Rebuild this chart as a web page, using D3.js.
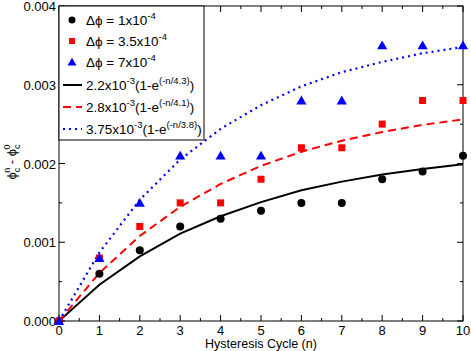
<!DOCTYPE html>
<meta charset="utf-8">
<head>
	<title>Hysteresis</title>
	<script type="text/javascript" src="https://d3js.org/d3.v7.min.js"></script>
	<style>
		body { margin: 0; background: #fff; }
		text { font-family: "Liberation Sans", Arial, sans-serif; fill: #000; }
		.tick-label { font-size: 13px; }
		.leg { font-size: 13.5px; }
	</style>
</head>
<body>
	<div id="chart"></div>
	<script>
		// data
		var cycles = [0, 1, 2, 3, 4, 5, 6, 7, 8, 9, 10];
		var dphi1 = [0, 0.0006, 0.0009, 0.0012, 0.0013, 0.0014, 0.0015, 0.0015, 0.0018, 0.0019, 0.0021];
		var dphi35 = [0, 0.0008, 0.0012, 0.0015, 0.0015, 0.0018, 0.0022, 0.0022, 0.0025, 0.0028, 0.0028];
		var dphi7 = [0, 0.0008, 0.0015, 0.0021, 0.0021, 0.0021, 0.0028, 0.0028, 0.0035, 0.0035, 0.0035];
		// fitted curves (values at each cycle)
		var fit1 = [0, 0.00046, 0.00082, 0.00111, 0.00133, 0.00151, 0.00166, 0.00177, 0.00186, 0.00193, 0.00199];
		var fit2 = [0, 0.00061, 0.00108, 0.00145, 0.00174, 0.00197, 0.00215, 0.00229, 0.00240, 0.00249, 0.00256];
		var fit3 = [0, 0.00087, 0.00154, 0.00205, 0.00244, 0.00274, 0.00298, 0.00316, 0.00329, 0.00340, 0.00348];
		var xTicks = [0, 1, 2, 3, 4, 5, 6, 7, 8, 9, 10];
		var yTicks = [0, 0.001, 0.002, 0.003, 0.004];

		var width = 471, height = 351;
		var margin = { left: 59, right: 8, top: 6, bottom: 30 };
		var svg = d3.select("#chart").append("svg").attr("width", width).attr("height", height);

		var x = d3.scaleLinear().domain([0, 10]).range([margin.left, width - margin.right]);
		var y = d3.scaleLinear().domain([0, 0.004]).range([height - margin.bottom, margin.top]);

		var x0 = x(0), x1 = x(10), y0 = y(0), y1 = y(0.004);
		var phi = "\u03d5";

		// frame
		svg.append("rect").attr("x", x0).attr("y", y1).attr("width", x1 - x0).attr("height", y0 - y1)
			.style("fill", "none").style("stroke", "#000").style("stroke-width", 1);

		// inward ticks on all sides
		var tk = svg.append("g").style("stroke", "#000").style("stroke-width", 1);
		d3.range(0, 10.01, 0.5).forEach(function (v) {
			var len = (Math.abs(v - Math.round(v)) < 1e-6) ? 6 : 3;
			tk.append("line").attr("x1", x(v)).attr("x2", x(v)).attr("y1", y0).attr("y2", y0 - len);
			tk.append("line").attr("x1", x(v)).attr("x2", x(v)).attr("y1", y1).attr("y2", y1 + len);
		});
		d3.range(0, 0.00401, 0.0005).forEach(function (v, i) {
			var len = (i % 2 === 0) ? 6 : 3;
			tk.append("line").attr("y1", y(v)).attr("y2", y(v)).attr("x1", x0).attr("x2", x0 + len);
			tk.append("line").attr("y1", y(v)).attr("y2", y(v)).attr("x1", x1).attr("x2", x1 - len);
		});

		svg.selectAll(".xl").data(xTicks).enter().append("text")
			.attr("class", "tick-label").attr("x", function (d) { return x(d); }).attr("y", y0 + 14)
			.attr("text-anchor", "middle").text(function (d) { return d; });
		svg.selectAll(".yl").data(yTicks).enter().append("text")
			.attr("class", "tick-label").attr("x", x0 - 3).attr("y", function (d) { return y(d) + 5; })
			.attr("text-anchor", "end").text(function (d) { return d3.format(".3f")(d); });

		svg.append("text").attr("x", (x0 + x1) / 2).attr("y", 348).attr("text-anchor", "middle")
			.style("font-size", "12.5px").text("Hysteresis Cycle (n)");

		// y label
		var yl = svg.append("text").attr("transform", "translate(16," + 162 + ") rotate(-90)")
			.attr("text-anchor", "middle").style("font-size", "13px");
		yl.append("tspan").text(phi);
		yl.append("tspan").attr("dy", 4).style("font-size", "9px").text("c");
		yl.append("tspan").attr("dx", -5).attr("dy", -10).style("font-size", "9px").text("n");
		yl.append("tspan").attr("dy", 6).text(" - " + phi);
		yl.append("tspan").attr("dy", 4).style("font-size", "9px").text("c");
		yl.append("tspan").attr("dx", -5).attr("dy", -10).style("font-size", "9px").text("0");

		var plot = svg.append("g");
		function curve(vals, color, dash, w) {
			plot.append("path")
				.datum(cycles.map(function (c, i) { return [c, vals[i]]; }))
				.attr("d", d3.line().x(function (d) { return x(d[0]); }).y(function (d) { return y(d[1]); }))
				.style("fill", "none").style("stroke", color).style("stroke-width", w)
				.style("stroke-dasharray", dash);
		}
		curve(fit1, "#000", null, 2);
		curve(fit2, "#ff0000", "8,5", 2);
		curve(fit3, "#0000ff", "2,4", 2.2);

		var tri = d3.symbol().type(d3.symbolTriangle).size(45);
		function markers(vals, kind, color) {
			cycles.forEach(function (c, i) {
				if (kind === "circle") {
					plot.append("circle").attr("cx", x(c)).attr("cy", y(vals[i])).attr("r", 4).style("fill", color);
				} else if (kind === "square") {
					plot.append("rect").attr("x", x(c) - 3.5).attr("y", y(vals[i]) - 3.5).attr("width", 7).attr("height", 7).style("fill", color);
				} else {
					plot.append("path").attr("d", tri).attr("transform", "translate(" + x(c) + "," + (y(vals[i]) + 1) + ")").style("fill", color);
				}
			});
		}
		markers(dphi1, "circle", "#000");
		markers(dphi35, "square", "#ff0000");
		markers(dphi7, "triangle", "#0000ff");

		// legend
		var lg = svg.append("g");
		lg.append("rect").attr("x", x0).attr("y", y1).attr("width", 145).attr("height", 134)
			.style("fill", "#fff").style("stroke", "#000").style("stroke-width", 1);
		var rows = [
			{ kind: "circle", color: "#000", label: ["\u0394" + phi + " = 1x10", "-4"] },
			{ kind: "square", color: "#ff0000", label: ["\u0394" + phi + " = 3.5x10", "-4"] },
			{ kind: "triangle", color: "#0000ff", label: ["\u0394" + phi + " = 7x10", "-4"] },
			{ kind: "line", color: "#000", dash: null, label: ["2.2x10", "-3", "(1-e", "(-n/4.3)", ")"] },
			{ kind: "line", color: "#ff0000", dash: "8,5", label: ["2.8x10", "-3", "(1-e", "(-n/4.1)", ")"] },
			{ kind: "line", color: "#0000ff", dash: "2,4", label: ["3.75x10", "-3", "(1-e", "(-n/3.8)", ")"] }
		];
		var rowY = [20, 41, 62, 85, 107, 129];
		rows.forEach(function (r, i) {
			var cy = rowY[i];
			if (r.kind === "circle") lg.append("circle").attr("cx", 72).attr("cy", cy).attr("r", 3.5).style("fill", r.color);
			if (r.kind === "square") lg.append("rect").attr("x", 69).attr("y", cy - 3).attr("width", 6).attr("height", 6).style("fill", r.color);
			if (r.kind === "triangle") lg.append("path").attr("d", d3.symbol().type(d3.symbolTriangle).size(35)).attr("transform", "translate(72," + (cy + 1) + ")").style("fill", r.color);
			if (r.kind === "line") lg.append("line").attr("x1", 63).attr("x2", 82).attr("y1", cy).attr("y2", cy)
				.style("stroke", r.color).style("stroke-width", 2).style("stroke-dasharray", r.dash);
			var t = lg.append("text").attr("class", "leg").attr("x", 86).attr("y", cy + 5);
			r.label.forEach(function (s, j) {
				var sup = j % 2 === 1;
				var ts = t.append("tspan").text(s);
				if (sup) ts.attr("dy", -6).style("font-size", "9.5px");
				else if (j > 0) ts.attr("dy", 6);
			});
		});
	</script>
</body>
</html>
